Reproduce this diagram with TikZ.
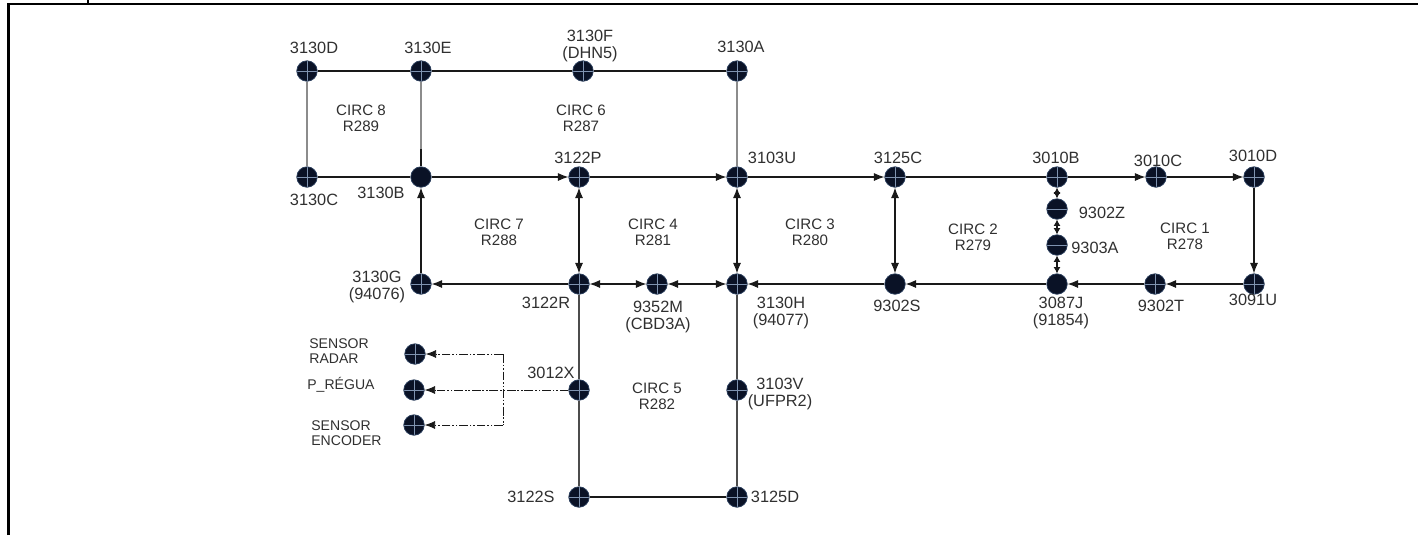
\documentclass[tikz,border=0pt]{standalone}
\usepackage{fontspec}
\setmainfont{Liberation Sans}
\usetikzlibrary{arrows.meta}
\definecolor{stnfill}{HTML}{0A1226}
\definecolor{stnedge}{HTML}{2B3F5E}
\definecolor{stncross}{HTML}{7F93B0}
\definecolor{lbltext}{HTML}{303030}
\tikzset{
  stnbase/.style={circle,fill=stnfill,draw=stnedge,line width=0.4pt,minimum size=0.41cm,inner sep=0pt},
  stn/.style={stnbase,path picture={
    \draw[stncross,line width=0.3pt] (path picture bounding box.north) -- (path picture bounding box.south);
    \draw[stncross,line width=0.3pt] (path picture bounding box.west) -- (path picture bounding box.east);}},
  stnh/.style={stnbase,path picture={
    \draw[stncross,line width=0.3pt] (path picture bounding box.west) -- (path picture bounding box.east);}},
  stndark/.style={stnbase},
  lbl/.style={text=lbltext,align=center,inner sep=0pt,font=\fontsize{9.3}{10.2}\selectfont},
  circ/.style={text=lbltext,align=center,inner sep=0pt,font=\fontsize{8.6}{9}\selectfont},
  sens/.style={text=lbltext,align=left,anchor=west,inner sep=0pt,font=\fontsize{8}{8.4}\selectfont},
  line/.style={black!90,line width=0.6pt},
  grayline/.style={black!45,line width=0.8pt},
  midline/.style={black!70,line width=0.8pt},
  fwd/.style={line,-{Latex[length=6pt,width=4.6pt]}},
  both/.style={line,{Latex[length=6pt,width=4.6pt]}-{Latex[length=6pt,width=4.6pt]}},
  bothshort/.style={line,{Latex[length=3.6pt,width=4pt]}-{Latex[length=3.6pt,width=4pt]}},
  ctrl/.style={black!90,line width=0.5pt,dash pattern=on 5pt off 1pt on 1pt off 1pt on 1pt off 1pt},
}
\begin{document}
\begin{tikzpicture}[x=0.02cm,y=-0.02cm]
\useasboundingbox (0,0) rectangle (1418,535);

% frame
\draw[line width=1.4pt] (8.5,535) -- (8.5,4) -- (1418,4);
\draw[line width=1.4pt] (88,0) -- (88,4);

% stations
\node[stn] (s3130D) at (307,71) {};
\node[stn] (s3130E) at (421,71) {};
\node[stn] (s3130F) at (583,71) {};
\node[stn] (s3130A) at (737,71) {};
\node[stn] (s3130C) at (307,177) {};
\node[stndark] (s3130B) at (421,177) {};
\node[stn] (s3122P) at (579,177) {};
\node[stn] (s3103U) at (737,177) {};
\node[stn] (s3125C) at (895,177) {};
\node[stn] (s3010B) at (1057,177) {};
\node[stn] (s3010C) at (1156,177) {};
\node[stn] (s3010D) at (1254,177) {};
\node[stnh] (s9302Z) at (1057,209) {};
\node[stnh] (s9303A) at (1057,245) {};
\node[stn] (s3130G) at (421,284) {};
\node[stn] (s3122R) at (579,284) {};
\node[stn] (s9352M) at (657,284) {};
\node[stn] (s3130H) at (737,284) {};
\node[stndark] (s9302S) at (895,284) {};
\node[stndark] (s3087J) at (1057,284) {};
\node[stn] (s9302T) at (1155,284) {};
\node[stn] (s3091U) at (1254,284) {};
\node[stn] (s3012X) at (579,390) {};
\node[stn] (s3103V) at (737,390) {};
\node[stn] (s3122S) at (579,497) {};
\node[stn] (s3125D) at (737,497) {};
\node[stn] (sRadar) at (415,354) {};
\node[stn] (sRegua) at (414,390) {};
\node[stn] (sEncoder) at (414,425) {};

% plain lines
\draw[line] (s3130D) -- (s3130E);
\draw[line] (s3130E) -- (s3130F);
\draw[line] (s3130F) -- (s3130A);
\draw[line] (s3130C) -- (s3130B);
\draw[line] (s3125C) -- (s3010B);
\draw[line] (s3122S) -- (s3125D);
\draw[grayline] (s3130D) -- (s3130C);
\draw[grayline] (s3130E) -- (s3130B);
\coordinate (jTop) at (421,149);
\draw[line] (jTop) -- (s3130B);
\draw[grayline] (s3130A) -- (s3103U);
\draw[midline] (s3122R) -- (s3012X);
\draw[midline] (s3012X) -- (s3122S);
\draw[midline] (s3130H) -- (s3103V);
\draw[midline] (s3103V) -- (s3125D);

% directed lines
\draw[fwd] (s3130B) -- (s3122P);
\draw[fwd] (s3122P) -- (s3103U);
\draw[fwd] (s3103U) -- (s3125C);
\draw[fwd] (s3010B) -- (s3010C);
\draw[fwd] (s3010C) -- (s3010D);
\draw[fwd] (s3010D) -- (s3091U);
\draw[fwd] (s3091U) -- (s9302T);
\draw[fwd] (s9302T) -- (s3087J);
\draw[fwd] (s3087J) -- (s9302S);
\draw[fwd] (s9302S) -- (s3130H);
\draw[fwd] (s3122R) -- (s3130G);
\draw[fwd] (s3130G) -- (s3130B);

% both ways
\draw[both] (s3122P) -- (s3122R);
\draw[both] (s3103U) -- (s3130H);
\draw[both] (s3125C) -- (s9302S);
\draw[both] (s3122R) -- (s9352M);
\draw[both] (s9352M) -- (s3130H);
\draw[bothshort] (s3010B) -- (s9302Z);
\draw[bothshort] (s9302Z) -- (s9303A);
\draw[bothshort] (s9303A) -- (s3087J);

% sensor links
\coordinate (jRadar) at (503,354);
\coordinate (jEncoder) at (503,425);
\draw[ctrl] (jRadar) -- (jEncoder);
\draw[ctrl,-{Latex[length=6pt,width=4.6pt]}] (jRadar) -- (sRadar);
\draw[ctrl,-{Latex[length=6pt,width=4.6pt]}] (s3012X) -- (sRegua);
\draw[ctrl,-{Latex[length=6pt,width=4.6pt]}] (jEncoder) -- (sEncoder);

% station labels
\node[lbl] (l3130D) at (314,48) {3130D};
\node[lbl] (l3130E) at (428,48) {3130E};
\node[lbl] (l3130F) at (590,46) {3130F\\(DHN5)};
\node[lbl] (l3130A) at (741,47) {3130A};
\node[lbl] (l3130C) at (314,200) {3130C};
\node[lbl] (l3130B) at (381,193) {3130B};
\node[lbl] (l3122P) at (578,158) {3122P};
\node[lbl] (l3103U) at (772,158) {3103U};
\node[lbl] (l3125C) at (898,158) {3125C};
\node[lbl] (l3010B) at (1056,158) {3010B};
\node[lbl] (l3010C) at (1158,161) {3010C};
\node[lbl] (l3010D) at (1253,156) {3010D};
\node[lbl] (l9302Z) at (1102,213) {9302Z};
\node[lbl] (l9303A) at (1095,248) {9303A};
\node[lbl] (l3130G) at (377,287) {3130G\\(94076)};
\node[lbl] (l3122R) at (546,303) {3122R};
\node[lbl] (l9352M) at (658,317) {9352M\\(CBD3A)};
\node[lbl] (l3130H) at (781,313) {3130H\\(94077)};
\node[lbl] (l9302S) at (897,306) {9302S};
\node[lbl] (l3087J) at (1061,313) {3087J\\(91854)};
\node[lbl] (l9302T) at (1161,306) {9302T};
\node[lbl] (l3091U) at (1253,300) {3091U};
\node[lbl] (l3012X) at (551,373) {3012X};
\node[lbl] (l3103V) at (780,394) {3103V\\(UFPR2)};
\node[lbl] (l3122S) at (531,497) {3122S};
\node[lbl] (l3125D) at (775,497) {3125D};

% circuits
\node[circ] (c8) at (361,118.5) {CIRC 8\\R289};
\node[circ] (c6) at (581,118.5) {CIRC 6\\R287};
\node[circ] (c7) at (499,232) {CIRC 7\\R288};
\node[circ] (c4) at (653,232) {CIRC 4\\R281};
\node[circ] (c3) at (810,232) {CIRC 3\\R280};
\node[circ] (c2) at (973,237) {CIRC 2\\R279};
\node[circ] (c1) at (1185,236) {CIRC 1\\R278};
\node[circ] (c5) at (657,396) {CIRC 5\\R282};

% sensors
\node[sens] (lRadar) at (309,351) {SENSOR\\RADAR};
\node[sens] (lRegua) at (307,385) {P\_RÉGUA};
\node[sens] (lEncoder) at (311,433) {SENSOR\\ENCODER};

\end{tikzpicture}
\end{document}
